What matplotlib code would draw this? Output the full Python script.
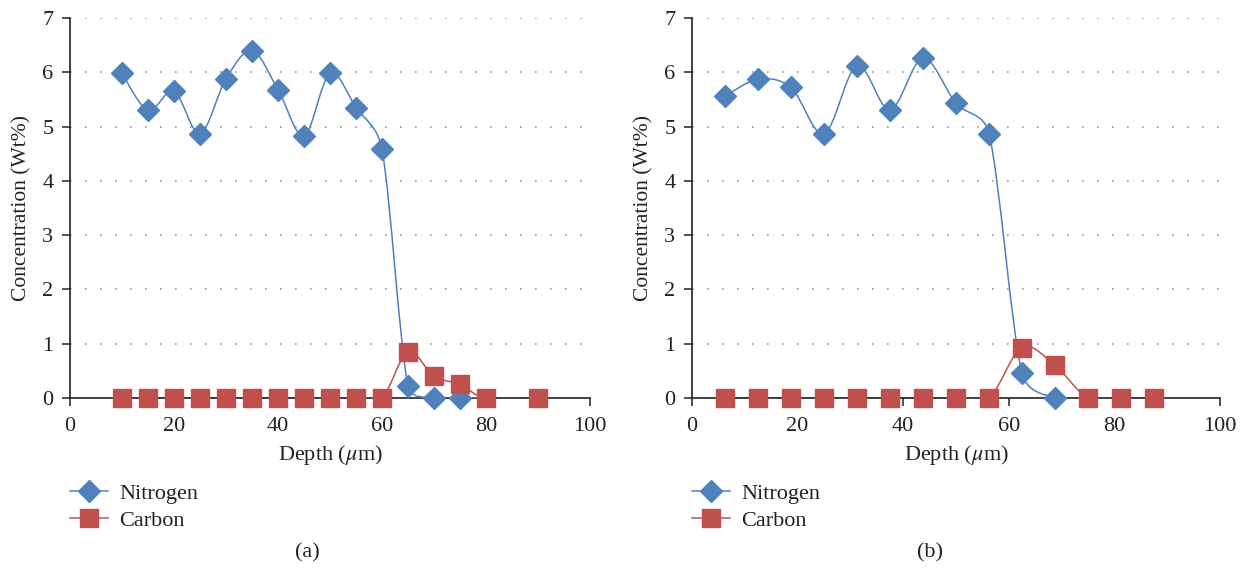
import numpy as np
import matplotlib
matplotlib.use("Agg")
from matplotlib import pyplot as plt
from matplotlib.path import Path
from matplotlib.patches import PathPatch
from matplotlib.lines import Line2D

plt.rcParams['font.family'] = ['Liberation Serif', 'DejaVu Serif']
plt.rcParams['mathtext.fontset'] = 'stix'

BLUE = '#4F81BD'
RED = '#C0504D'

# panel (a)
a_n_x = [10, 15, 20, 25, 30, 35, 40, 45, 50, 55, 60, 65, 70, 75, 80]
a_n_y = [5.98, 5.30, 5.65, 4.87, 5.88, 6.40, 5.68, 4.83, 5.98, 5.35, 4.58, 0.22, 0.0, 0.0, 0.0]
a_c_x = [10, 15, 20, 25, 30, 35, 40, 45, 50, 55, 60, 65, 70, 75, 80, 90]
a_c_y = [0, 0, 0, 0, 0, 0, 0, 0, 0, 0, 0, 0.85, 0.40, 0.25, 0, 0]

# panel (b)
b_n_x = [6.25, 12.5, 18.75, 25, 31.25, 37.5, 43.75, 50, 56.25, 62.5, 68.75, 75]
b_n_y = [5.56, 5.87, 5.72, 4.87, 6.12, 5.31, 6.26, 5.43, 4.87, 0.46, 0.0, 0.0]
b_c_x = [6.25, 12.5, 18.75, 25, 31.25, 37.5, 43.75, 50, 56.25, 62.5, 68.75, 75, 81.25, 87.5]
b_c_y = [0, 0, 0, 0, 0, 0, 0, 0, 0, 0.93, 0.60, 0, 0, 0]

n_hidden = 1  # last nitrogen point sits under a carbon square, no marker shown


def smooth_path(ax, xs, ys):
    # excel-like bezier smoothing, worked out in pixel space
    pts = ax.transData.transform(np.column_stack([xs, ys]))
    verts = [pts[0]]
    codes = [Path.MOVETO]
    n = len(pts)
    for i in range(n - 1):
        p0 = pts[max(i - 1, 0)]
        p1 = pts[i]
        p2 = pts[i + 1]
        p3 = pts[min(i + 2, n - 1)]
        d02 = np.hypot(*(p2 - p0))
        d13 = np.hypot(*(p3 - p1))
        d12 = np.hypot(*(p2 - p1))
        f1 = 1 / 6
        f2 = 1 / 6
        if d02 / 6 >= d12 / 2 and d02 > 0:
            f1 = d12 / 2 / d02
        if d13 / 6 >= d12 / 2 and d13 > 0:
            f2 = d12 / 2 / d13
        c1 = p1 + f1 * (p2 - p0)
        c2 = p2 - f2 * (p3 - p1)
        verts += [c1, c2, p2]
        codes += [Path.CURVE4] * 3
    verts = ax.transData.inverted().transform(np.array(verts))
    return Path(verts, codes)


def draw_panel(ax, nx, ny, cx, cy):
    ax.set_xlim(0, 100)
    ax.set_ylim(0, 7)
    ax.set_xticks(range(0, 101, 20))
    ax.set_yticks(range(0, 8))
    for s in ['top', 'right']:
        ax.spines[s].set_visible(False)
    for s in ['left', 'bottom']:
        ax.spines[s].set_color('#222222')
        ax.spines[s].set_linewidth(1.2)
    ax.tick_params(direction='out', length=6, width=1.2, color='#333333',
                   labelsize=16, colors='#222222')
    ax.tick_params(axis='x', pad=8)
    ax.tick_params(axis='y', pad=6)
    for yv in range(1, 8):
        ax.axhline(yv, color='#9a9a9a', lw=1.2, ls=(0, (1, 8)), zorder=0)
    ax.set_xlabel('Depth ($\\mu$m)', fontsize=16, color='#222222', labelpad=5)
    ax.set_ylabel('Concentration (Wt%)', fontsize=15.5, color='#222222', labelpad=8)
    ax.figure.canvas.draw()
    ax.add_patch(PathPatch(smooth_path(ax, cx, cy), fill=False, ec=RED, lw=1.1, zorder=2))
    ax.add_patch(PathPatch(smooth_path(ax, nx, ny), fill=False, ec=BLUE, lw=1.1, zorder=3))
    ax.plot(nx[:-n_hidden], ny[:-n_hidden], ls='none', marker='D', ms=11.5,
            color=BLUE, mec=BLUE, zorder=4, clip_on=False)
    ax.plot(cx, cy, ls='none', marker='s', ms=13.5, color=RED, mec=RED,
            zorder=5, clip_on=False)


fig = plt.figure(figsize=(12.49, 5.73), dpi=100)
ax1 = fig.add_axes([70 / 1249, 1 - 398 / 573, 520 / 1249, 380 / 573])
ax2 = fig.add_axes([692 / 1249, 1 - 398 / 573, 528 / 1249, 380 / 573])

draw_panel(ax1, a_n_x, a_n_y, a_c_x, a_c_y)
draw_panel(ax2, b_n_x, b_n_y, b_c_x, b_c_y)

handles = [
    Line2D([], [], color=BLUE, lw=1.1, marker='D', ms=11.5, label='Nitrogen'),
    Line2D([], [], color=RED, lw=1.1, marker='s', ms=13.5, label='Carbon'),
]
for xl, lab, xt in [(70 / 1249, '(a)', 307 / 1249), (692 / 1249, '(b)', 930 / 1249)]:
    fig.legend(handles=handles, loc='upper left', bbox_to_anchor=(xl, 1 - 483 / 573),
               frameon=False, fontsize=16, handlelength=1.7, handletextpad=0.5,
               labelspacing=0.3, borderaxespad=0, borderpad=0, labelcolor='#222222')
    fig.text(xt, 1 - 553 / 573, lab, ha='center', va='center', fontsize=16, color='#222222')

fig.savefig('out.png', dpi=100)
